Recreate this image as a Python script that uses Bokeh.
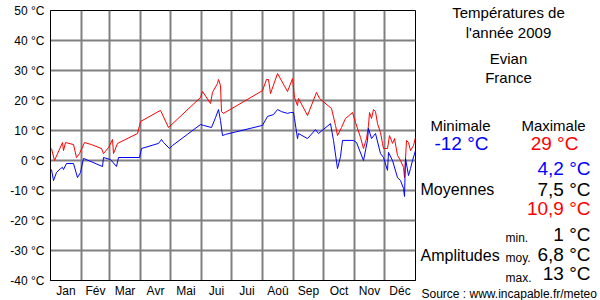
from bokeh.plotting import figure
from bokeh.layouts import row, column
from bokeh.models import Range1d, FixedTicker, PrintfTickFormatter
from bokeh.core.properties import value
from bokeh.embed import file_html
from bokeh.resources import INLINE

# ---- data ----
months = ["Jan", "Fév", "Mar", "Avr", "Mai", "Jui", "Jui", "Aoû", "Sep", "Oct", "Nov", "Déc"]
month_days = [31, 28, 31, 30, 31, 30, 31, 31, 30, 31, 30, 31]

max_days = [1, 4, 12, 13, 15, 23, 26, 29, 34, 41, 51, 53, 58, 62, 63, 67, 87, 90, 110, 118,
            150, 152, 160, 162, 167, 168, 170, 171, 173, 212, 216, 218, 220, 227, 237, 242,
            244, 247, 248, 257, 266, 269, 281, 285, 287, 291, 295, 302, 305, 310, 313, 316,
            318, 319, 321, 323, 325, 327, 330, 332, 333, 337, 339, 342, 344, 347, 350, 353,
            354, 356, 358, 360, 363, 365]
max_temps = [4, 0, 6, 3.3, 6, 5.3, 1, 2.3, 6, 5.3, 4, 2.3, 4.3, 7, 2.3, 5.7, 9, 13, 16.7, 11,
             21, 23, 19, 22.7, 25.7, 27, 25, 16.3, 15.7, 23.3, 27, 27, 22.3, 29, 23, 27.3,
             21, 18.3, 20.7, 15, 22.7, 20.7, 17.3, 11.7, 8.3, 11, 14, 16, 12.7, 7.7, 4, 7.3,
             11.7, 16, 14, 17, 16.3, 12.3, 9.3, 5.7, 4, 4, 8.3, 5.7, 7.3, 1.7, 0, -2.3,
             -5.7, 6.7, 6, 3.3, 5, 7.7]

min_days = [1, 3, 6, 10, 12, 13, 16, 23, 27, 30, 33, 52, 53, 60, 66, 68, 89, 91, 108, 111,
            113, 119, 122, 150, 153, 161, 165, 168, 170, 172, 175, 212, 217, 223, 227, 231,
            237, 240, 243, 244, 247, 248, 257, 265, 268, 280, 283, 287, 290, 292, 303, 306,
            313, 317, 318, 321, 325, 330, 333, 337, 338, 342, 347, 350, 353, 354, 355, 358,
            360, 362, 365]
min_temps = [-3, -6.7, -4, -2.7, -2.3, -3, -1, -1, -5.7, -4, 0.7, -2, 1, 0.3, -2, 1, 1, 4,
             5.7, 7, 6, 4, 5, 12, 11.7, 11, 14.3, 17, 13.3, 8.3, 8.7, 11.7, 14.7, 15.3, 17,
             16.3, 15.7, 16, 16, 14, 7.3, 9, 7.3, 10.3, 9, 12.3, 6.7, -2.7, 1.3, 6.7, 6.7,
             6, 0, 6.7, 10.7, 7.3, 9, 2.3, 1, -3.3, 2.7, 0, -5.7, -6.7, -9.3, -12, 0.7, -5,
             -2.7, 0, 3.3]

y_ticks = [-40, -30, -20, -10, 0, 10, 20, 30, 40, 50]

title_lines = ["Températures de", "l'année 2009"]
place_lines = ["Evian", "France"]
stat_min = "-12 °C"
stat_max = "29 °C"
mean_min, mean_avg, mean_max = "4,2 °C", "7,5 °C", "10,9 °C"
amp_min, amp_avg, amp_max = "1 °C", "6,8 °C", "13 °C"
source = "Source : www.incapable.fr/meteo"

FONT = "Liberation Sans"

# ---- main chart ----
bounds = [0]
for d in month_days:
    bounds.append(bounds[-1] + d)
mids = [(bounds[i] + bounds[i + 1]) / 2 for i in range(12)]

MAIN_W = 416
p = figure(width=MAIN_W, height=300, output_backend="svg", toolbar_location=None,
           x_range=Range1d(0, 365), y_range=Range1d(-40, 50),
           min_border_left=50, min_border_right=1, min_border_top=10, min_border_bottom=20)
p.background_fill_color = "white"
p.border_fill_color = "white"
p.outline_line_color = "black"
p.outline_line_width = 1

p.xaxis.ticker = FixedTicker(ticks=mids)
p.xaxis.major_label_overrides = {m: lab for m, lab in zip(mids, months)}
p.yaxis.ticker = FixedTicker(ticks=y_ticks)
p.yaxis.formatter = PrintfTickFormatter(format="%d °C")
for ax in (p.xaxis[0], p.yaxis[0]):
    ax.major_tick_line_color = None
    ax.minor_tick_line_color = None
    ax.major_tick_out = 0
    ax.major_tick_in = 0
    ax.minor_tick_out = 0
    ax.minor_tick_in = 0
    ax.axis_line_color = "black"
    ax.axis_line_width = 1
    ax.major_label_text_font = FONT
    ax.major_label_text_font_size = "12px"
    ax.major_label_text_color = "black"
p.xaxis.major_label_standoff = 3
p.yaxis.major_label_standoff = 6

p.xgrid.ticker = FixedTicker(ticks=bounds[1:-1])
p.ygrid.ticker = FixedTicker(ticks=y_ticks)
for g in (p.xgrid[0], p.ygrid[0]):
    g.grid_line_color = "#808080"
    g.grid_line_width = 2

p.line(max_days, max_temps, line_color="#ff0000", line_width=1)
p.line(min_days, min_temps, line_color="#0000ff", line_width=1)

# ---- side panel (texts) ----
SIDE_W = 600 - MAIN_W
s = figure(width=SIDE_W, height=300, output_backend="svg", toolbar_location=None,
           title=None, x_range=Range1d(MAIN_W, 600), y_range=Range1d(300, 0),
           min_border_left=0, min_border_right=0, min_border_top=0, min_border_bottom=0,
           x_axis_type=None, y_axis_type=None)
s.outline_line_color = None
s.background_fill_color = "white"
s.border_fill_color = "white"
s.xgrid.visible = False
s.ygrid.visible = False


def txt(texts, xs, ys, size, color="black", align="center"):
    s.text(x=xs, y=ys, text=texts, text_font=value(FONT), text_font_size=size,
           text_color=color, text_align=align, text_baseline="middle")


txt([title_lines[0], title_lines[1], place_lines[0], place_lines[1]],
    [508, 508, 508, 508], [12, 32, 58, 77], "15px")
txt(["Minimale", "Maximale"], [460, 553], [125, 125], "15px")
txt([stat_min], [461], [143], "19px", "#0000ff")
txt([stat_max], [554], [143], "19px", "#ff0000")

txt([mean_min], [590], [168], "19px", "#0000ff", "right")
txt([mean_avg, amp_min, amp_avg, amp_max], [590, 590, 590, 590], [189, 234, 254, 273],
    "19px", "black", "right")
txt([mean_max], [590], [208], "19px", "#ff0000", "right")
txt(["Moyennes", "Amplitudes"], [420, 420], [189, 255], "16px", "black", "left")
txt(["min.", "moy.", "max."], [505, 505, 505], [237, 257, 277], "12px", "black", "left")
txt([source], [421], [293], "12px", "black", "left")

layout = row(p, column(s, spacing=0), spacing=0)
open("out.html", "w").write(file_html(layout, INLINE))
